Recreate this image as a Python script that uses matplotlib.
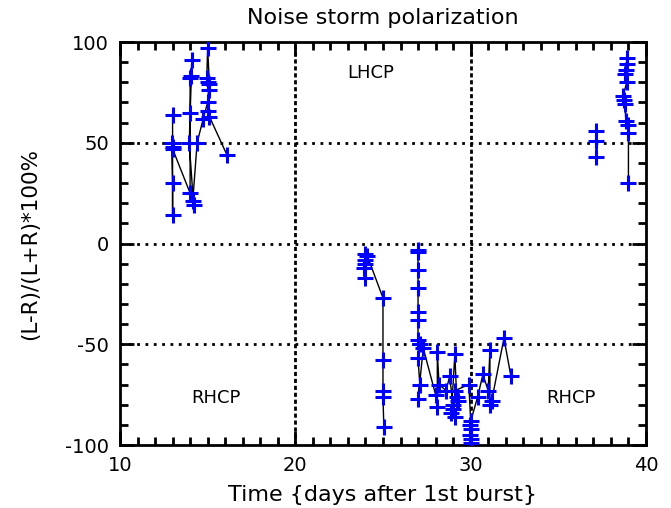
import matplotlib
matplotlib.use("Agg")
import matplotlib.pyplot as plt
from matplotlib.ticker import MultipleLocator

plt.rcParams['axes.unicode_minus'] = False
plt.rcParams['font.family'] = ['DejaVu Sans']

# Segments of the time series (days after 1st burst, polarization %)
x1 = [13.0, 13.0, 13.0, 12.95, 13.0, 13.0, 14.0, 14.0, 14.0, 14.05, 14.1, 13.95, 14.2, 14.15, 14.4, 14.75, 15.0, 15.05, 15.0, 14.95, 15.0, 15.1, 15.0, 15.1, 16.1]
y1 = [64, 14, 30, 50, 48, 47, 25, 65, 82, 83, 91, 50, 19, 21, 50, 62, 70, 76, 80, 82, 97, 79, 66, 63, 44]

x2 = [23.9, 23.95, 24.0, 24.0, 23.95, 24.1, 25.0, 25.0, 25.0, 25.0, 25.05]
y2 = [-12, -17, -8, -5, -10, -6, -27, -58, -73, -76, -91]

x3 = [27.0, 27.0, 27.0, 27.0, 27.0, 27.0, 27.0, 27.1, 27.0, 27.1, 27.0, 27.3, 28.0, 28.1, 28.1, 28.2,
      28.6, 28.8, 29.0, 28.9, 29.1, 29.2, 29.0, 29.1, 29.3, 29.1, 29.9, 30.0, 30.0, 29.95, 30.0, 30.0,
      29.95, 30.4, 30.7, 31.0, 31.1, 31.1, 31.2, 31.9, 32.3]
y3 = [-3, -4, -13, -22, -34, -38, -48, -50, -57, -70, -77, -52, -75, -81, -54, -70,
      -73, -66, -80, -84, -55, -76, -82, -86, -78, -73, -70, -88, -92, -95, -97, -99,
      -90, -76, -65, -73, -53, -80, -78, -47, -66]

x4 = [37.15, 37.15, 37.15]
y4 = [56, 51, 43]

x5 = [38.9, 38.9, 38.85, 38.8, 38.9, 38.7, 38.75, 38.8, 38.85, 38.95, 39.0, 39.0]
y5 = [92, 89, 86, 84, 80, 73, 71, 69, 61, 59, 55, 30]

segments = [(x1, y1), (x2, y2), (x3, y3), (x4, y4), (x5, y5)]

fig = plt.figure(figsize=(6.71, 5.08), dpi=100)
ax = fig.add_axes([0.1788, 0.124, 0.7839, 0.7933])

for xs, ys in segments:
    ax.plot(xs, ys, color='black', lw=1.0, zorder=2)
    ax.plot(xs, ys, ls='none', marker='+', ms=12, mew=2.2, color='#0000ff', zorder=3)

for xv in [20, 30]:
    ax.axvline(xv, color='black', lw=2, ls=(0, (1.5, 1)), zorder=1)
for yv in [50, 0, -50]:
    ax.axhline(yv, color='black', lw=2, ls=(0, (1, 2)), zorder=1)

ax.set_xlim(10, 40)
ax.set_ylim(-100, 100)
ax.xaxis.set_major_locator(MultipleLocator(10))
ax.xaxis.set_minor_locator(MultipleLocator(1))
ax.yaxis.set_major_locator(MultipleLocator(50))
ax.yaxis.set_minor_locator(MultipleLocator(10))
ax.tick_params(which='both', direction='in', top=True, right=True, width=2, labelsize=14, colors='black')
ax.tick_params(which='major', length=10, pad=8)
ax.tick_params(which='minor', length=6)
for s in ax.spines.values():
    s.set_linewidth(2)

ax.text(24.3, 84.5, 'LHCP', ha='center', va='center', fontsize=13)
ax.text(15.5, -76.7, 'RHCP', ha='center', va='center', fontsize=13)
ax.text(35.7, -76.7, 'RHCP', ha='center', va='center', fontsize=13)

ax.set_title('Noise storm polarization', fontsize=16, pad=13)
ax.set_xlabel('Time {days after 1st burst}', fontsize=16, labelpad=7)
ax.set_ylabel('(L-R)/(L+R)*100%', fontsize=15.5, labelpad=18)

fig.savefig('out.png', dpi=100)
